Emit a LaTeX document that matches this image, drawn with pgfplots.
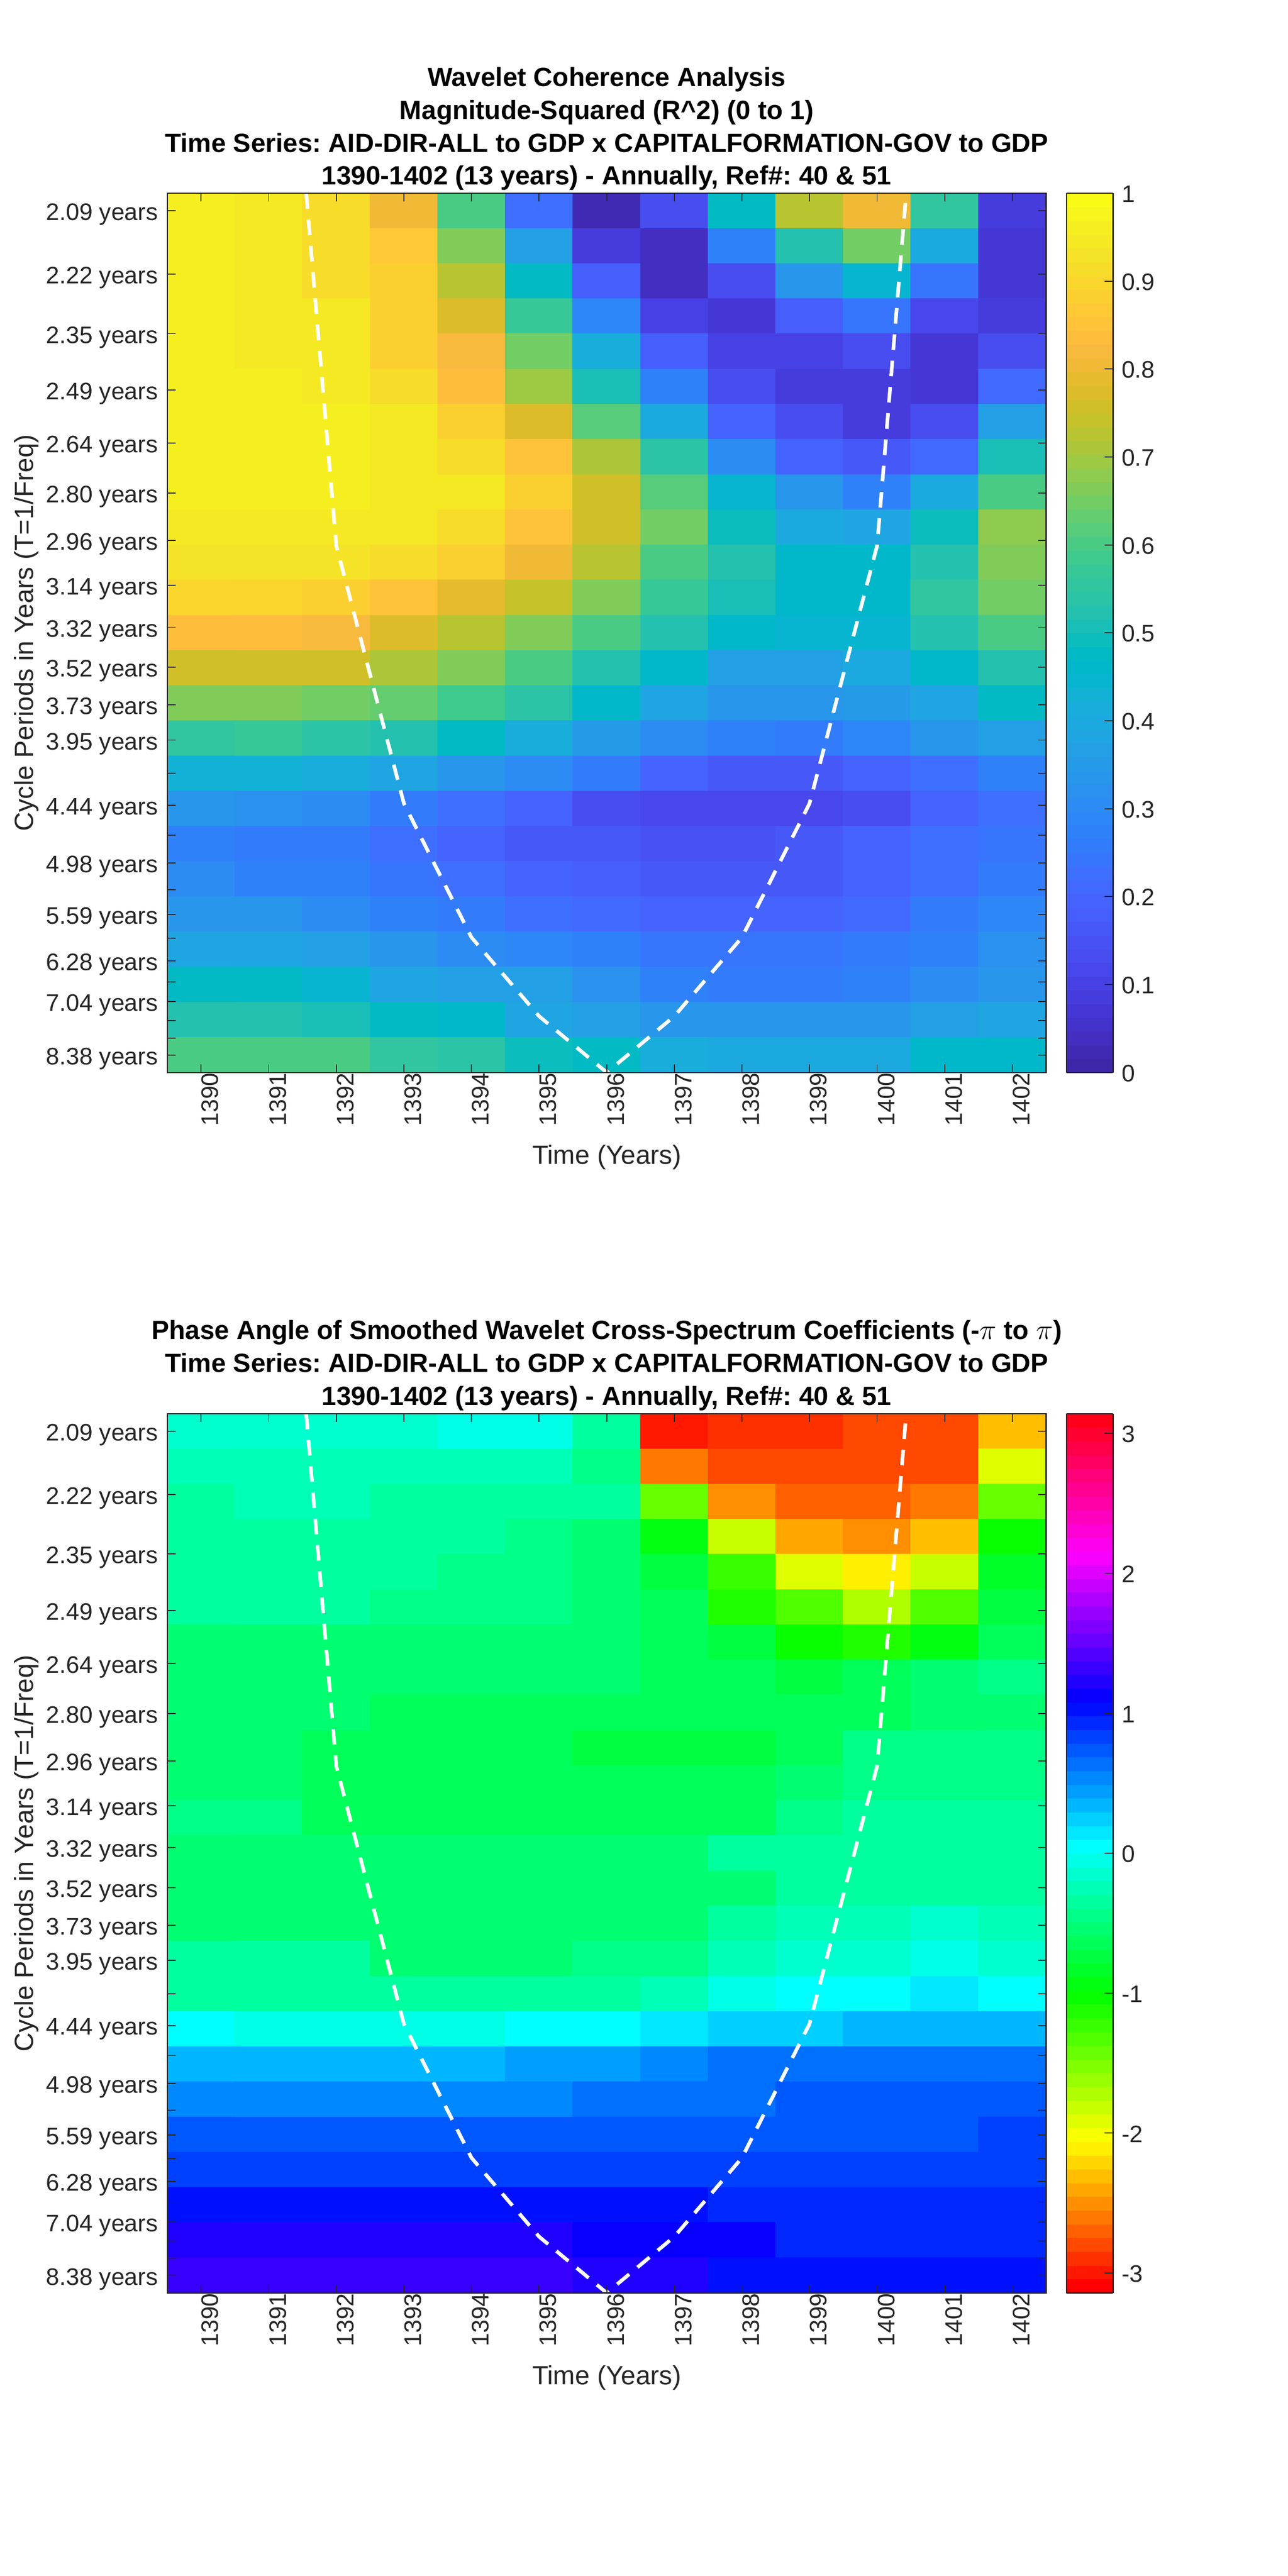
\documentclass[border=0pt]{standalone}
\usepackage{fontspec}
\setmainfont{Liberation Sans}
\frenchspacing
\usepackage{pgfplots}
\pgfplotsset{compat=1.18}
\definecolor{axgray}{RGB}{38,38,38}

\pgfplotsset{
  colormap={parula}{
    rgb=(0.2422,0.1504,0.6603) rgb=(0.2504,0.1650,0.7076) rgb=(0.2578,0.1818,0.7511) rgb=(0.2647,0.1978,0.7952)
    rgb=(0.2706,0.2147,0.8364) rgb=(0.2751,0.2342,0.8710) rgb=(0.2783,0.2559,0.8991) rgb=(0.2803,0.2782,0.9221)
    rgb=(0.2813,0.3006,0.9414) rgb=(0.2810,0.3228,0.9579) rgb=(0.2795,0.3447,0.9717) rgb=(0.2760,0.3667,0.9829)
    rgb=(0.2699,0.3892,0.9906) rgb=(0.2602,0.4123,0.9952) rgb=(0.2440,0.4358,0.9988) rgb=(0.2206,0.4603,0.9973)
    rgb=(0.1963,0.4847,0.9892) rgb=(0.1834,0.5074,0.9798) rgb=(0.1786,0.5289,0.9682) rgb=(0.1764,0.5499,0.9520)
    rgb=(0.1687,0.5703,0.9359) rgb=(0.1540,0.5902,0.9218) rgb=(0.1460,0.6091,0.9079) rgb=(0.1380,0.6276,0.8973)
    rgb=(0.1248,0.6459,0.8883) rgb=(0.1113,0.6635,0.8763) rgb=(0.0952,0.6798,0.8598) rgb=(0.0689,0.6948,0.8394)
    rgb=(0.0297,0.7082,0.8163) rgb=(0.0036,0.7203,0.7917) rgb=(0.0067,0.7312,0.7660) rgb=(0.0433,0.7411,0.7394)
    rgb=(0.0964,0.7500,0.7120) rgb=(0.1408,0.7584,0.6842) rgb=(0.1717,0.7670,0.6554) rgb=(0.1938,0.7758,0.6251)
    rgb=(0.2161,0.7843,0.5923) rgb=(0.2470,0.7918,0.5567) rgb=(0.2906,0.7973,0.5188) rgb=(0.3406,0.8008,0.4789)
    rgb=(0.3909,0.8029,0.4354) rgb=(0.4456,0.8024,0.3909) rgb=(0.5044,0.7993,0.3480) rgb=(0.5616,0.7942,0.3045)
    rgb=(0.6174,0.7876,0.2612) rgb=(0.6720,0.7793,0.2227) rgb=(0.7242,0.7698,0.1910) rgb=(0.7738,0.7598,0.1646)
    rgb=(0.8203,0.7498,0.1535) rgb=(0.8634,0.7406,0.1596) rgb=(0.9035,0.7330,0.1774) rgb=(0.9393,0.7288,0.2100)
    rgb=(0.9728,0.7298,0.2394) rgb=(0.9956,0.7434,0.2371) rgb=(0.9970,0.7659,0.2199) rgb=(0.9952,0.7893,0.2028)
    rgb=(0.9892,0.8136,0.1885) rgb=(0.9786,0.8386,0.1766) rgb=(0.9676,0.8639,0.1643) rgb=(0.9610,0.8890,0.1537)
    rgb=(0.9597,0.9135,0.1423) rgb=(0.9628,0.9373,0.1265) rgb=(0.9691,0.9606,0.1064) rgb=(0.9769,0.9839,0.0805)
  },
  colormap={hsvbase}{
    rgb255(0cm)=(255,0,0) rgb255(32cm)=(255,255,0) rgb255(64cm)=(0,255,0) rgb255(96cm)=(0,255,255)
    rgb255(128cm)=(0,0,255) rgb255(160cm)=(255,0,255) rgb255(189cm)=(255,0,24)
  },
  colormap={hsvsf}{samples of colormap=(64 of hsvbase)},
  wavelet/.style={
    scale only axis, width=533.25pt, height=533.5pt,
    anchor=north west,
    y dir=reverse,
    xmin=1389.5, xmax=1402.5, ymin=0.5, ymax=25.5,
    axis on top,
    axis line style={axgray, line width=0.7pt},
    tick align=inside, tick pos=both,
    major tick length=5pt,
    every tick/.append style={axgray, line width=0.6pt},
    xtick={1390,1391,1392,1393,1394,1395,1396,1397,1398,1399,1400,1401,1402},
    xticklabels={1390,1391,1392,1393,1394,1395,1396,1397,1398,1399,1400,1401,1402},
    ytick={1,2.796,4.491,6.091,7.602,9.027,10.372,11.643,12.841,13.973,15.041,16.049,17,17.898,18.746,19.546,20.301,21.013,21.686,22.321,22.921,23.486,24.020,24.524,25},
    yticklabels={2.09 years,2.22 years,2.35 years,2.49 years,2.64 years,2.80 years,2.96 years,3.14 years,3.32 years,3.52 years,3.73 years,3.95 years,,4.44 years,,4.98 years,,5.59 years,,6.28 years,,7.04 years,,,8.38 years},
    ticklabel style={font=\fontsize{14.5}{17}\selectfont, text=axgray},
    xticklabel style={rotate=90, anchor=east, inner sep=0pt, yshift=-5.5pt},
    yticklabel style={inner sep=0pt, xshift=-5.5pt, yshift=-2.25pt},
    xlabel={Time (Years)},
    ylabel={Cycle Periods in Years (T=1/Freq)},
    label style={font=\fontsize{16}{19}\selectfont, text=axgray},
    xlabel style={at={(axis description cs:0.5,-0.104)}, anchor=base},
    ylabel style={at={(axis description cs:-0.1528,0.5)}, anchor=base},
    title style={font=\fontsize{16}{20}\selectfont\bfseries, align=center, anchor=south, inner sep=0pt, yshift=-4.5pt},
    colorbar sampled,
    colormap access=piecewise constant,
  },
  cbar/.style={
    at={(parent axis.north east)}, anchor=north west, xshift=3.8pt,
    width=28.25pt, samples=65,
    axis line style={axgray, line width=0.7pt},
    ytick pos=right, ytick align=inside, yticklabel pos=right,
    major tick length=5pt,
    every tick/.append style={axgray, line width=0.6pt},
    yticklabel style={font=\fontsize{14.5}{17}\selectfont, text=axgray, inner sep=0pt, xshift=5pt, yshift=-0.5pt},
  },
  coi/.style={white, line width=2.2pt, dash pattern=on 9.5pt off 6.5pt, no marks},
}

\begin{document}
\begin{tikzpicture}
\useasboundingbox (0,0) rectangle (781.25pt,1563pt);

% coherence
\begin{axis}[wavelet, at={(101.5pt,1445.75pt)},
  title={Wavelet Coherence Analysis\\Magnitude-Squared (R\^{}2) (0 to 1)\\Time Series: AID-DIR-ALL to GDP x CAPITALFORMATION-GOV to GDP\\1390-1402 (13 years) - Annually, Ref\#: 40 \& 51},
  colormap name=parula,
  point meta min=0, point meta max=1,
  colorbar style={cbar,
    ytick={0,0.1,0.2,0.3,0.4,0.5,0.6,0.7,0.8,0.9,1},
    yticklabels={0,0.1,0.2,0.3,0.4,0.5,0.6,0.7,0.8,0.9,1}},
]
\addplot[matrix plot*, mesh/cols=13, point meta=explicit] coordinates {
(1390,1)[0.965] (1391,1)[0.95] (1392,1)[0.91] (1393,1)[0.80] (1394,1)[0.60] (1395,1)[0.22] (1396,1)[0.03] (1397,1)[0.13] (1398,1)[0.47] (1399,1)[0.72] (1400,1)[0.81] (1401,1)[0.55] (1402,1)[0.09]
(1390,2)[0.965] (1391,2)[0.95] (1392,2)[0.92] (1393,2)[0.86] (1394,2)[0.67] (1395,2)[0.36] (1396,2)[0.08] (1397,2)[0.04] (1398,2)[0.28] (1399,2)[0.53] (1400,2)[0.65] (1401,2)[0.40] (1402,2)[0.07]
(1390,3)[0.965] (1391,3)[0.95] (1392,3)[0.92] (1393,3)[0.88] (1394,3)[0.72] (1395,3)[0.47] (1396,3)[0.18] (1397,3)[0.04] (1398,3)[0.13] (1399,3)[0.33] (1400,3)[0.44] (1401,3)[0.24] (1402,3)[0.07]
(1390,4)[0.965] (1391,4)[0.95] (1392,4)[0.94] (1393,4)[0.88] (1394,4)[0.77] (1395,4)[0.57] (1396,4)[0.29] (1397,4)[0.10] (1398,4)[0.07] (1399,4)[0.18] (1400,4)[0.24] (1401,4)[0.12] (1402,4)[0.09]
(1390,5)[0.965] (1391,5)[0.95] (1392,5)[0.95] (1393,5)[0.89] (1394,5)[0.82] (1395,5)[0.65] (1396,5)[0.42] (1397,5)[0.18] (1398,5)[0.10] (1399,5)[0.10] (1400,5)[0.13] (1401,5)[0.07] (1402,5)[0.14]
(1390,6)[0.965] (1391,6)[0.96] (1392,6)[0.95] (1393,6)[0.92] (1394,6)[0.84] (1395,6)[0.70] (1396,6)[0.50] (1397,6)[0.28] (1398,6)[0.14] (1399,6)[0.08] (1400,6)[0.08] (1401,6)[0.07] (1402,6)[0.21]
(1390,7)[0.965] (1391,7)[0.965] (1392,7)[0.96] (1393,7)[0.94] (1394,7)[0.89] (1395,7)[0.77] (1396,7)[0.61] (1397,7)[0.40] (1398,7)[0.19] (1399,7)[0.13] (1400,7)[0.08] (1401,7)[0.14] (1402,7)[0.36]
(1390,8)[0.965] (1391,8)[0.965] (1392,8)[0.96] (1393,8)[0.95] (1394,8)[0.92] (1395,8)[0.85] (1396,8)[0.71] (1397,8)[0.54] (1398,8)[0.30] (1399,8)[0.20] (1400,8)[0.16] (1401,8)[0.21] (1402,8)[0.50]
(1390,9)[0.965] (1391,9)[0.965] (1392,9)[0.96] (1393,9)[0.95] (1394,9)[0.94] (1395,9)[0.88] (1396,9)[0.76] (1397,9)[0.62] (1398,9)[0.45] (1399,9)[0.33] (1400,9)[0.28] (1401,9)[0.40] (1402,9)[0.60]
(1390,10)[0.95] (1391,10)[0.95] (1392,10)[0.95] (1393,10)[0.94] (1394,10)[0.92] (1395,10)[0.85] (1396,10)[0.76] (1397,10)[0.65] (1398,10)[0.49] (1399,10)[0.40] (1400,10)[0.38] (1401,10)[0.49] (1402,10)[0.68]
(1390,11)[0.93] (1391,11)[0.93] (1392,11)[0.93] (1393,11)[0.91] (1394,11)[0.88] (1395,11)[0.80] (1396,11)[0.72] (1397,11)[0.60] (1398,11)[0.53] (1399,11)[0.46] (1400,11)[0.46] (1401,11)[0.53] (1402,11)[0.67]
(1390,12)[0.90] (1391,12)[0.90] (1392,12)[0.89] (1393,12)[0.85] (1394,12)[0.79] (1395,12)[0.74] (1396,12)[0.66] (1397,12)[0.57] (1398,12)[0.51] (1399,12)[0.46] (1400,12)[0.46] (1401,12)[0.55] (1402,12)[0.65]
(1390,13)[0.84] (1391,13)[0.84] (1392,13)[0.82] (1393,13)[0.78] (1394,13)[0.73] (1395,13)[0.66] (1396,13)[0.60] (1397,13)[0.52] (1398,13)[0.46] (1399,13)[0.44] (1400,13)[0.45] (1401,13)[0.52] (1402,13)[0.60]
(1390,14)[0.76] (1391,14)[0.76] (1392,14)[0.75] (1393,14)[0.71] (1394,14)[0.66] (1395,14)[0.60] (1396,14)[0.53] (1397,14)[0.46] (1398,14)[0.37] (1399,14)[0.37] (1400,14)[0.40] (1401,14)[0.46] (1402,14)[0.53]
(1390,15)[0.67] (1391,15)[0.67] (1392,15)[0.65] (1393,15)[0.63] (1394,15)[0.58] (1395,15)[0.54] (1396,15)[0.46] (1397,15)[0.38] (1398,15)[0.33] (1399,15)[0.33] (1400,15)[0.35] (1401,15)[0.39] (1402,15)[0.47]
(1390,16)[0.56] (1391,16)[0.57] (1392,16)[0.54] (1393,16)[0.52] (1394,16)[0.47] (1395,16)[0.41] (1396,16)[0.35] (1397,16)[0.31] (1398,16)[0.28] (1399,16)[0.26] (1400,16)[0.29] (1401,16)[0.33] (1402,16)[0.36]
(1390,17)[0.43] (1391,17)[0.43] (1392,17)[0.41] (1393,17)[0.38] (1394,17)[0.34] (1395,17)[0.30] (1396,17)[0.26] (1397,17)[0.20] (1398,17)[0.16] (1399,17)[0.16] (1400,17)[0.19] (1401,17)[0.23] (1402,17)[0.27]
(1390,18)[0.33] (1391,18)[0.32] (1392,18)[0.31] (1393,18)[0.26] (1394,18)[0.23] (1395,18)[0.19] (1396,18)[0.13] (1397,18)[0.12] (1398,18)[0.12] (1399,18)[0.11] (1400,18)[0.14] (1401,18)[0.19] (1402,18)[0.22]
(1390,19)[0.28] (1391,19)[0.26] (1392,19)[0.25] (1393,19)[0.22] (1394,19)[0.20] (1395,19)[0.17] (1396,19)[0.16] (1397,19)[0.15] (1398,19)[0.15] (1399,19)[0.16] (1400,19)[0.19] (1401,19)[0.22] (1402,19)[0.24]
(1390,20)[0.30] (1391,20)[0.28] (1392,20)[0.27] (1393,20)[0.24] (1394,20)[0.22] (1395,20)[0.19] (1396,20)[0.18] (1397,20)[0.16] (1398,20)[0.16] (1399,20)[0.17] (1400,20)[0.19] (1401,20)[0.23] (1402,20)[0.26]
(1390,21)[0.33] (1391,21)[0.33] (1392,21)[0.31] (1393,21)[0.28] (1394,21)[0.26] (1395,21)[0.23] (1396,21)[0.21] (1397,21)[0.19] (1398,21)[0.19] (1399,21)[0.19] (1400,21)[0.21] (1401,21)[0.25] (1402,21)[0.29]
(1390,22)[0.38] (1391,22)[0.38] (1392,22)[0.37] (1393,22)[0.33] (1394,22)[0.31] (1395,22)[0.29] (1396,22)[0.27] (1397,22)[0.24] (1398,22)[0.24] (1399,22)[0.24] (1400,22)[0.25] (1401,22)[0.27] (1402,22)[0.32]
(1390,23)[0.47] (1391,23)[0.47] (1392,23)[0.45] (1393,23)[0.38] (1394,23)[0.37] (1395,23)[0.36] (1396,23)[0.32] (1397,23)[0.28] (1398,23)[0.26] (1399,23)[0.25] (1400,23)[0.27] (1401,23)[0.31] (1402,23)[0.34]
(1390,24)[0.52] (1391,24)[0.52] (1392,24)[0.50] (1393,24)[0.48] (1394,24)[0.46] (1395,24)[0.39] (1396,24)[0.37] (1397,24)[0.34] (1398,24)[0.33] (1399,24)[0.33] (1400,24)[0.34] (1401,24)[0.36] (1402,24)[0.38]
(1390,25)[0.60] (1391,25)[0.60] (1392,25)[0.60] (1393,25)[0.56] (1394,25)[0.54] (1395,25)[0.49] (1396,25)[0.47] (1397,25)[0.42] (1398,25)[0.40] (1399,25)[0.40] (1400,25)[0.40] (1401,25)[0.46] (1402,25)[0.46]
};
\addplot[coi] coordinates {
(1391.555,0.5) (1392,10.52) (1393,17.85) (1394,21.66) (1395,23.9) (1396,25.5)
(1397,23.9) (1398,21.66) (1399,17.85) (1400,10.52) (1400.43,0.5)
};
\end{axis}

% phase
\begin{axis}[wavelet, at={(101.5pt,705.25pt)},
  title={Phase Angle of Smoothed Wavelet Cross-Spectrum Coefficients (-$\pi$ to $\pi$)\\Time Series: AID-DIR-ALL to GDP x CAPITALFORMATION-GOV to GDP\\1390-1402 (13 years) - Annually, Ref\#: 40 \& 51},
  colormap name=hsvsf,
  point meta min=-3.1416, point meta max=3.1416,
  colorbar style={cbar,
    ytick={-3,-2,-1,0,1,2,3},
    yticklabels={-3,-2,-1,0,1,2,3}},
]
\addplot[matrix plot*, mesh/cols=13, point meta=explicit] coordinates {
(1390,1)[-0.18] (1391,1)[-0.18] (1392,1)[-0.18] (1393,1)[-0.18] (1394,1)[-0.05] (1395,1)[-0.05] (1396,1)[-0.33] (1397,1)[-3.0] (1398,1)[-2.9] (1399,1)[-2.9] (1400,1)[-2.82] (1401,1)[-2.82] (1402,1)[-2.35]
(1390,2)[-0.2] (1391,2)[-0.2] (1392,2)[-0.2] (1393,2)[-0.2] (1394,2)[-0.2] (1395,2)[-0.2] (1396,2)[-0.4] (1397,2)[-2.65] (1398,2)[-2.82] (1399,2)[-2.82] (1400,2)[-2.82] (1401,2)[-2.75] (1402,2)[-1.9]
(1390,3)[-0.32] (1391,3)[-0.2] (1392,3)[-0.2] (1393,3)[-0.35] (1394,3)[-0.35] (1395,3)[-0.35] (1396,3)[-0.37] (1397,3)[-1.45] (1398,3)[-2.5] (1399,3)[-2.72] (1400,3)[-2.72] (1401,3)[-2.65] (1402,3)[-1.45]
(1390,4)[-0.32] (1391,4)[-0.32] (1392,4)[-0.32] (1393,4)[-0.32] (1394,4)[-0.32] (1395,4)[-0.45] (1396,4)[-0.5] (1397,4)[-0.98] (1398,4)[-1.85] (1399,4)[-2.4] (1400,4)[-2.52] (1401,4)[-2.3] (1402,4)[-1.05]
(1390,5)[-0.32] (1391,5)[-0.32] (1392,5)[-0.32] (1393,5)[-0.32] (1394,5)[-0.4] (1395,5)[-0.4] (1396,5)[-0.5] (1397,5)[-0.7] (1398,5)[-1.25] (1399,5)[-1.95] (1400,5)[-2.1] (1401,5)[-1.85] (1402,5)[-0.8]
(1390,6)[-0.32] (1391,6)[-0.32] (1392,6)[-0.32] (1393,6)[-0.45] (1394,6)[-0.45] (1395,6)[-0.45] (1396,6)[-0.5] (1397,6)[-0.6] (1398,6)[-1.1] (1399,6)[-1.35] (1400,6)[-1.7] (1401,6)[-1.35] (1402,6)[-0.75]
(1390,7)[-0.5] (1391,7)[-0.5] (1392,7)[-0.5] (1393,7)[-0.5] (1394,7)[-0.5] (1395,7)[-0.55] (1396,7)[-0.55] (1397,7)[-0.6] (1398,7)[-0.75] (1399,7)[-1.05] (1400,7)[-1.1] (1401,7)[-0.95] (1402,7)[-0.62]
(1390,8)[-0.5] (1391,8)[-0.5] (1392,8)[-0.5] (1393,8)[-0.5] (1394,8)[-0.58] (1395,8)[-0.58] (1396,8)[-0.58] (1397,8)[-0.62] (1398,8)[-0.65] (1399,8)[-0.72] (1400,8)[-0.6] (1401,8)[-0.55] (1402,8)[-0.48]
(1390,9)[-0.52] (1391,9)[-0.52] (1392,9)[-0.52] (1393,9)[-0.6] (1394,9)[-0.6] (1395,9)[-0.6] (1396,9)[-0.68] (1397,9)[-0.68] (1398,9)[-0.68] (1399,9)[-0.68] (1400,9)[-0.62] (1401,9)[-0.5] (1402,9)[-0.5]
(1390,10)[-0.52] (1391,10)[-0.52] (1392,10)[-0.62] (1393,10)[-0.62] (1394,10)[-0.62] (1395,10)[-0.62] (1396,10)[-0.7] (1397,10)[-0.7] (1398,10)[-0.7] (1399,10)[-0.6] (1400,10)[-0.45] (1401,10)[-0.45] (1402,10)[-0.45]
(1390,11)[-0.5] (1391,11)[-0.5] (1392,11)[-0.62] (1393,11)[-0.62] (1394,11)[-0.62] (1395,11)[-0.62] (1396,11)[-0.66] (1397,11)[-0.66] (1398,11)[-0.66] (1399,11)[-0.58] (1400,11)[-0.45] (1401,11)[-0.45] (1402,11)[-0.45]
(1390,12)[-0.48] (1391,12)[-0.48] (1392,12)[-0.62] (1393,12)[-0.62] (1394,12)[-0.62] (1395,12)[-0.62] (1396,12)[-0.62] (1397,12)[-0.62] (1398,12)[-0.62] (1399,12)[-0.48] (1400,12)[-0.38] (1401,12)[-0.38] (1402,12)[-0.38]
(1390,13)[-0.5] (1391,13)[-0.5] (1392,13)[-0.5] (1393,13)[-0.58] (1394,13)[-0.58] (1395,13)[-0.58] (1396,13)[-0.58] (1397,13)[-0.58] (1398,13)[-0.36] (1399,13)[-0.34] (1400,13)[-0.32] (1401,13)[-0.32] (1402,13)[-0.32]
(1390,14)[-0.52] (1391,14)[-0.52] (1392,14)[-0.52] (1393,14)[-0.52] (1394,14)[-0.52] (1395,14)[-0.52] (1396,14)[-0.52] (1397,14)[-0.52] (1398,14)[-0.52] (1399,14)[-0.38] (1400,14)[-0.32] (1401,14)[-0.32] (1402,14)[-0.32]
(1390,15)[-0.5] (1391,15)[-0.5] (1392,15)[-0.5] (1393,15)[-0.55] (1394,15)[-0.55] (1395,15)[-0.55] (1396,15)[-0.55] (1397,15)[-0.55] (1398,15)[-0.3] (1399,15)[-0.2] (1400,15)[-0.23] (1401,15)[-0.12] (1402,15)[-0.25]
(1390,16)[-0.38] (1391,16)[-0.38] (1392,16)[-0.38] (1393,16)[-0.52] (1394,16)[-0.52] (1395,16)[-0.52] (1396,16)[-0.42] (1397,16)[-0.42] (1398,16)[-0.28] (1399,16)[-0.13] (1400,16)[-0.15] (1401,16)[-0.02] (1402,16)[-0.17]
(1390,17)[-0.3] (1391,17)[-0.3] (1392,17)[-0.3] (1393,17)[-0.3] (1394,17)[-0.3] (1395,17)[-0.3] (1396,17)[-0.3] (1397,17)[-0.2] (1398,17)[-0.02] (1399,17)[0.02] (1400,17)[0.02] (1401,17)[0.1] (1402,17)[0.02]
(1390,18)[0.02] (1391,18)[-0.02] (1392,18)[-0.02] (1393,18)[-0.02] (1394,18)[-0.02] (1395,18)[0.02] (1396,18)[0.02] (1397,18)[0.1] (1398,18)[0.2] (1399,18)[0.27] (1400,18)[0.38] (1401,18)[0.33] (1402,18)[0.33]
(1390,19)[0.3] (1391,19)[0.3] (1392,19)[0.3] (1393,19)[0.3] (1394,19)[0.3] (1395,19)[0.4] (1396,19)[0.4] (1397,19)[0.52] (1398,19)[0.62] (1399,19)[0.62] (1400,19)[0.62] (1401,19)[0.62] (1402,19)[0.62]
(1390,20)[0.52] (1391,20)[0.52] (1392,20)[0.52] (1393,20)[0.52] (1394,20)[0.52] (1395,20)[0.52] (1396,20)[0.63] (1397,20)[0.63] (1398,20)[0.63] (1399,20)[0.72] (1400,20)[0.72] (1401,20)[0.72] (1402,20)[0.72]
(1390,21)[0.72] (1391,21)[0.72] (1392,21)[0.72] (1393,21)[0.72] (1394,21)[0.72] (1395,21)[0.72] (1396,21)[0.72] (1397,21)[0.72] (1398,21)[0.72] (1399,21)[0.72] (1400,21)[0.72] (1401,21)[0.72] (1402,21)[0.8]
(1390,22)[0.88] (1391,22)[0.88] (1392,22)[0.88] (1393,22)[0.88] (1394,22)[0.88] (1395,22)[0.88] (1396,22)[0.88] (1397,22)[0.82] (1398,22)[0.82] (1399,22)[0.82] (1400,22)[0.82] (1401,22)[0.82] (1402,22)[0.82]
(1390,23)[1.05] (1391,23)[1.05] (1392,23)[1.05] (1393,23)[1.05] (1394,23)[1.05] (1395,23)[1.02] (1396,23)[1.02] (1397,23)[1.02] (1398,23)[0.93] (1399,23)[0.93] (1400,23)[0.93] (1401,23)[0.93] (1402,23)[0.93]
(1390,24)[1.2] (1391,24)[1.2] (1392,24)[1.2] (1393,24)[1.2] (1394,24)[1.2] (1395,24)[1.2] (1396,24)[1.08] (1397,24)[1.08] (1398,24)[1.08] (1399,24)[0.98] (1400,24)[0.98] (1401,24)[0.98] (1402,24)[0.98]
(1390,25)[1.3] (1391,25)[1.3] (1392,25)[1.3] (1393,25)[1.3] (1394,25)[1.3] (1395,25)[1.3] (1396,25)[1.2] (1397,25)[1.2] (1398,25)[1.05] (1399,25)[1.05] (1400,25)[1.05] (1401,25)[1.05] (1402,25)[1.05]
};
\addplot[coi] coordinates {
(1391.555,0.5) (1392,10.52) (1393,17.85) (1394,21.66) (1395,23.9) (1396,25.5)
(1397,23.9) (1398,21.66) (1399,17.85) (1400,10.52) (1400.43,0.5)
};
\end{axis}
\end{tikzpicture}
\end{document}
